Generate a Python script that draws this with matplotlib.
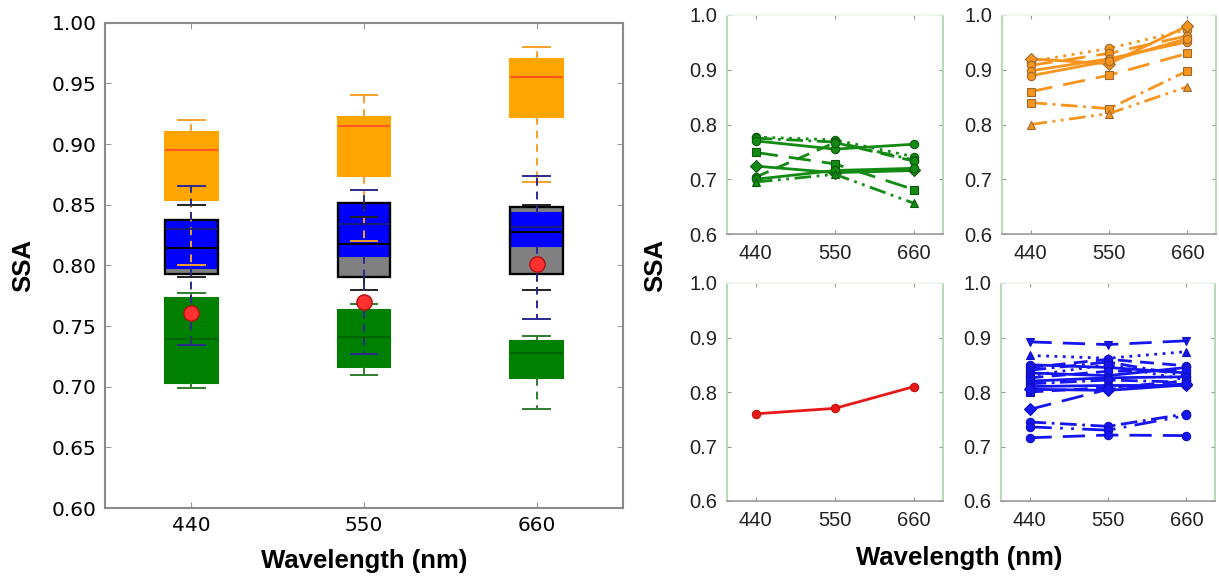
import numpy as np
import matplotlib
matplotlib.use("Agg")
import matplotlib.pyplot as plt
from matplotlib.patches import PathPatch

# ---- data ----
wavelengths = [440, 550, 660]

# box statistics per class: q1, median, q3, whisker low, whisker high
green_q1 = [0.703, 0.716, 0.707]
green_med = [0.739, 0.741, 0.728]
green_q3 = [0.773, 0.7635, 0.738]
green_lo = [0.699, 0.710, 0.682]
green_hi = [0.777, 0.7685, 0.742]

orange_q1 = [0.854, 0.874, 0.922]
orange_med = [0.895, 0.9147, 0.955]
orange_q3 = [0.910, 0.9226, 0.970]
orange_lo = [0.800, 0.820, 0.869]
orange_hi = [0.920, 0.940, 0.980]

gray_q1 = [0.7926, 0.7904, 0.7926]
gray_med = [0.8143, 0.8176, 0.8274]
gray_q3 = [0.8376, 0.8516, 0.848]
gray_lo = [0.790, 0.780, 0.780]
gray_hi = [0.850, 0.840, 0.850]

blue_q1 = [0.798, 0.808, 0.8157]
blue_med = [0.830, 0.8343, 0.8315]
blue_q3 = [0.8376, 0.8516, 0.843]
blue_lo = [0.734, 0.727, 0.756]
blue_hi = [0.865, 0.862, 0.874]

mean_ssa = [0.761, 0.770, 0.801]

# individual site curves (SSA at 440, 550, 660)
green_lines = [
    [0.777, 0.772, 0.741],
    [0.775, 0.768, 0.735],
    [0.770, 0.755, 0.764],
    [0.749, 0.728, 0.681],
    [0.724, 0.712, 0.716],
    [0.704, 0.767, 0.733],
    [0.700, 0.716, 0.720],
    [0.695, 0.709, 0.656],
]
green_ls = [(0, (1, 2)), (0, (6, 2, 1, 2)), "-", (0, (8, 4)), "-", (0, (5, 3)), "-", (0, (6, 2, 1, 2, 1, 2))]
green_mk = ["o", "o", "o", "s", "D", "o", "o", "^"]

orange_lines = [
    [0.915, 0.939, 0.973],
    [0.920, 0.911, 0.980],
    [0.908, 0.930, 0.962],
    [0.898, 0.920, 0.951],
    [0.889, 0.916, 0.957],
    [0.860, 0.890, 0.930],
    [0.840, 0.829, 0.898],
    [0.800, 0.820, 0.869],
]
orange_ls = [(0, (1, 2)), "-", (0, (8, 4)), "-", "-", (0, (8, 4)), (0, (6, 2, 1, 2)), (0, (6, 2, 1, 2, 1, 2))]
orange_mk = ["o", "D", "o", "o", "o", "s", "s", "^"]

red_line = [0.76, 0.77, 0.81]

blue_lines = [
    [0.892, 0.887, 0.894],
    [0.867, 0.862, 0.874],
    [0.850, 0.845, 0.835],
    [0.845, 0.860, 0.848],
    [0.840, 0.855, 0.830],
    [0.835, 0.830, 0.845],
    [0.830, 0.850, 0.822],
    [0.826, 0.838, 0.840],
    [0.820, 0.826, 0.828],
    [0.815, 0.822, 0.818],
    [0.810, 0.812, 0.812],
    [0.800, 0.808, 0.820],
    [0.805, 0.803, 0.813],
    [0.768, 0.805, 0.815],
    [0.745, 0.737, 0.760],
    [0.736, 0.730, 0.757],
    [0.716, 0.721, 0.720],
]
blue_ls = [(0, (8, 4)), (0, (1, 2)), "-", (0, (5, 3)), (0, (6, 2, 1, 2)), "-", (0, (1, 2)),
           (0, (5, 3)), "-", (0, (6, 2, 1, 2)), "-", (0, (5, 3)), "-", (0, (8, 4)),
           (0, (6, 2, 1, 2)), (0, (8, 3, 1, 3, 1, 3)), (0, (8, 4))]
blue_mk = ["v", "^", "o", "o", "o", "o", "o", "o", "o", "o", "o", "s", "D", "D", "o", "o", "o"]


def stats(q1, med, q3, lo, hi):
    return [dict(q1=a, med=b, q3=c, whislo=d, whishi=e, fliers=[])
            for a, b, c, d, e in zip(q1, med, q3, lo, hi)]


fig = plt.figure(figsize=(12.19, 5.76), dpi=100)
W, H = 1219, 576


def box_axes(l, t, r, b):
    return fig.add_axes([l / W, 1 - b / H, (r - l) / W, (b - t) / H])


# ---------- left: box plots ----------
ax = box_axes(105, 22.7, 623, 508)
pos = [1, 2, 3]
groups = [
    (stats(green_q1, green_med, green_q3, green_lo, green_hi), "#008000", "#008000", "#006400", "#2e7d2e", 1.0),
    (stats(orange_q1, orange_med, orange_q3, orange_lo, orange_hi), "#FFA500", "#FFA500", "#FF5A1E", "#F5A02A", 1.0),
    (stats(gray_q1, gray_med, gray_q3, gray_lo, gray_hi), "#808080", "black", "black", "#222222", 1.1),
    (stats(blue_q1, blue_med, blue_q3, blue_lo, blue_hi), "#0000FF", "#0000FF", "#1a1a7a", "#2a2a90", 1.2),
]
for st, fc, ec, mc, wc, z in groups:
    bp = ax.bxp(st, positions=pos, widths=0.306, patch_artist=True, showfliers=False,
                boxprops=dict(facecolor=fc, edgecolor=ec, linewidth=1.5),
                medianprops=dict(color=mc, linewidth=1.5),
                whiskerprops=dict(color=wc, linewidth=1.4, linestyle=(0, (4, 3))),
                capprops=dict(color=wc, linewidth=1.4))
    for b in bp["boxes"]:
        b.set_zorder(z)
    if ec == "black":
        for b in bp["boxes"]:
            ax.add_patch(PathPatch(b.get_path(), fill=False, edgecolor="black", linewidth=1.6, zorder=1.3))

ax.plot(pos, mean_ssa, "o", color="#FF3030", markeredgecolor="#B01010", markersize=11, zorder=5, linestyle="none")
ax.set_xlim(0.5, 3.5)
ax.set_ylim(0.60, 1.00)
ax.set_yticks(np.arange(0.60, 1.001, 0.05))
ax.set_yticklabels(["%.2f" % v for v in np.arange(0.60, 1.001, 0.05)])
ax.set_xticks(pos)
ax.set_xticklabels([str(w) for w in wavelengths])
ax.tick_params(direction="in", top=True, right=True, length=4, color="#999999", labelsize=14.5, pad=6)
for s in ax.spines.values():
    s.set_color("#8a8a8a")
    s.set_linewidth(1.5)
ax.set_xlabel("Wavelength (nm)", fontsize=18.5, fontweight="bold", family="Liberation Sans", labelpad=10)
ax.set_ylabel("SSA", fontsize=18.5, fontweight="bold", family="Liberation Sans", labelpad=12)

# ---------- right: individual curves ----------
panels = [
    ((727, 15, 943, 234), green_lines, green_ls, green_mk, "#138a13", "#0a5a0a"),
    ((1002, 15, 1216, 234), orange_lines, orange_ls, orange_mk, "#F7941D", "#9a6a30"),
    ((727, 283, 943, 501), [red_line], ["-"], ["o"], "#E81818", "#C01010"),
    ((1001, 283, 1215, 501), blue_lines, blue_ls, blue_mk, "#1515F0", "#1010C0"),
]
for (l, t, r, b), lines, lss, mks, col, mec in panels:
    a = box_axes(l, t, r, b)
    for vals, ls, mk in zip(lines, lss, mks):
        a.plot(wavelengths, vals, linestyle=ls, marker=mk, color=col, linewidth=2,
               markersize=6, markeredgecolor=mec, markeredgewidth=0.8)
    a.set_xlim(400, 700)
    a.set_ylim(0.6, 1.0)
    a.set_xticks(wavelengths)
    a.set_yticks([0.6, 0.7, 0.8, 0.9, 1.0])
    a.set_yticklabels(["0.6", "0.7", "0.8", "0.9", "1.0"])
    a.tick_params(direction="in", top=True, right=True, length=3, color="#999999",
                  labelsize=14.5, pad=7)
    for lab in a.get_xticklabels() + a.get_yticklabels():
        lab.set_family("Liberation Sans")
        lab.set_color("#222222")
    a.spines["left"].set_color("#a8d8a8")
    a.spines["right"].set_color("#a8d8a8")
    a.spines["top"].set_color("#eef5ee")
    a.spines["bottom"].set_color("#9a9a9a")
    for s in a.spines.values():
        s.set_linewidth(1.2)

fig.text(655 / W, 1 - 265 / H, "SSA", rotation=90, fontsize=18.5, fontweight="bold",
         family="Liberation Sans", ha="center", va="center")
fig.text(959 / W, 1 - 558 / H, "Wavelength (nm)", fontsize=18.5, fontweight="bold",
         family="Liberation Sans", ha="center", va="center")

fig.savefig("out.png", dpi=100)
